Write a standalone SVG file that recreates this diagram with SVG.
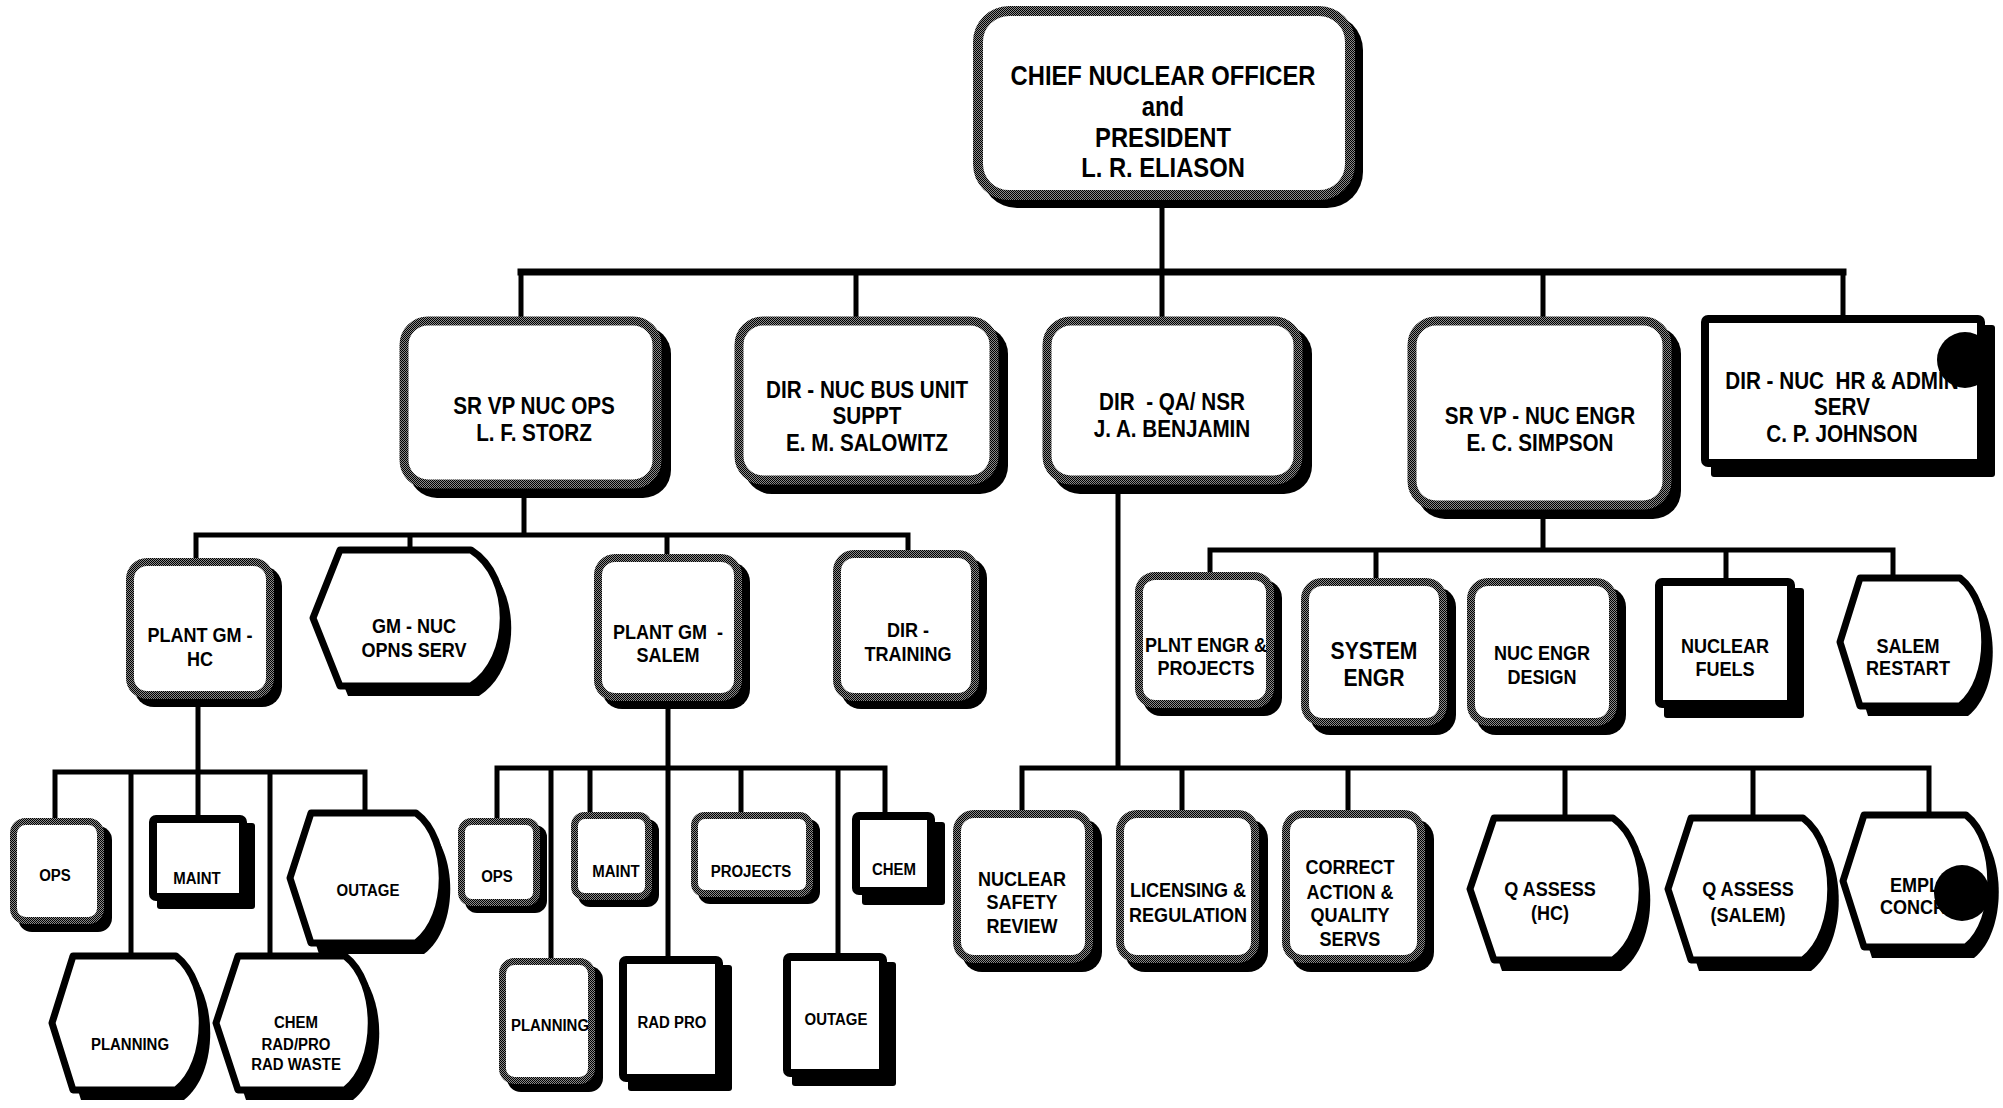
<svg xmlns="http://www.w3.org/2000/svg" width="2003" height="1108" viewBox="0 0 2003 1108">
  <defs>
    <!-- halftone fill used for the dotted box borders -->
    <pattern id="ht" width="2" height="2" patternUnits="userSpaceOnUse">
      <rect width="2" height="2" fill="#8a8a8a"/>
      <rect width="1" height="1" fill="#000"/>
      <rect x="1" y="1" width="1" height="1" fill="#000"/>
    </pattern>
  </defs>
  <style>
    .sh { fill: #000; }
    .ht { fill: #fff; stroke: url(#ht); }
    .bk { fill: #fff; stroke: #000; stroke-width: 8; }
    .dp { fill: #fff; stroke: #000; stroke-width: 7; stroke-linejoin: round; }
    .ln { stroke: #000; stroke-width: 5; fill: none; stroke-linecap: square; }
    .bus1 { stroke-width: 7; }
    text {
      font-family: "Liberation Sans", Arial, sans-serif; font-weight: bold;
      text-anchor: middle; fill: #000; white-space: pre;
      transform-box: fill-box; transform-origin: 50% 50%; transform: scaleX(0.88);
    }
    .f27 { font-size: 27px; }
    .f23 { font-size: 23.5px; }
    .f24 { font-size: 24px; }
    .f20 { font-size: 20.5px; }
    .f17 { font-size: 17px; }
  </style>

  <rect width="2003" height="1108" fill="#fff"/>

  <!-- reporting lines -->
  <g id="connectors" class="ln">
    <path d="M1162,200 V272"/>
    <path class="bus1" d="M521,272 H1843"/>
    <path d="M521,272 V317 M856,272 V317 M1162,272 V317 M1543,272 V317 M1843,272 V315"/>

    <path d="M524,489 V535 M196,535 H908 M196,535 V558 M410,535 V550 M667,535 V554 M908,535 V550"/>

    <path d="M1543,510 V550 M1210,550 H1893 M1210,550 V572 M1376,550 V578 M1726,550 V578 M1893,550 V578"/>

    <path d="M1118,485 V768 M1022,768 H1929 M1022,768 V810 M1182,768 V810 M1348,768 V810 M1565,768 V818 M1753,768 V818 M1929,768 V815"/>

    <path d="M198,699 V772 M55,772 H365 M55,772 V818 M131,772 V956 M198,772 V815 M270,772 V956 M365,772 V813"/>

    <path d="M668,701 V956 M497,768 H885 M497,768 V818 M551,768 V958 M590,768 V812 M741,768 V812 M838,768 V953 M885,768 V812"/>
  </g>

  <!-- top level -->
  <g id="cno">
    <rect class="sh" x="981" y="14" width="382" height="194" rx="36"/>
    <rect class="ht" x="978" y="11" width="372" height="184" rx="31" stroke-width="10"/>
    <text class="f27" x="1163" y="85">CHIEF NUCLEAR OFFICER</text>
    <text class="f27" x="1163" y="116">and</text>
    <text class="f27" x="1163" y="147">PRESIDENT</text>
    <text class="f27" x="1163" y="177">L. R. ELIASON</text>
  </g>

  <!-- second level -->
  <g id="srvp-ops">
    <rect class="sh" x="409" y="326" width="262" height="172" rx="28"/>
    <rect class="ht" x="404" y="321" width="253" height="163" rx="24" stroke-width="9"/>
    <text class="f23" x="534" y="414">SR VP NUC OPS</text>
    <text class="f23" x="534" y="441">L. F. STORZ</text>
  </g>
  <g id="dir-bus">
    <rect class="sh" x="744" y="326" width="264" height="168" rx="28"/>
    <rect class="ht" x="739" y="321" width="255" height="159" rx="24" stroke-width="9"/>
    <text class="f23" x="867" y="398">DIR - NUC BUS UNIT</text>
    <text class="f23" x="867" y="424">SUPPT</text>
    <text class="f23" x="867" y="451">E. M. SALOWITZ</text>
  </g>
  <g id="dir-qa">
    <rect class="sh" x="1052" y="326" width="260" height="168" rx="28"/>
    <rect class="ht" x="1047" y="321" width="251" height="159" rx="24" stroke-width="9"/>
    <text class="f23" x="1172" y="410">DIR  - QA/ NSR</text>
    <text class="f23" x="1172" y="437">J. A. BENJAMIN</text>
  </g>
  <g id="srvp-engr">
    <rect class="sh" x="1417" y="326" width="264" height="193" rx="28"/>
    <rect class="ht" x="1412" y="321" width="255" height="184" rx="24" stroke-width="9"/>
    <text class="f23" x="1540" y="424">SR VP - NUC ENGR</text>
    <text class="f23" x="1540" y="451">E. C. SIMPSON</text>
  </g>
  <g id="dir-hr">
    <rect class="sh" x="1711" y="325" width="284" height="152" rx="3"/>
    <rect class="bk" x="1705" y="319" width="276" height="144" rx="3"/>
    <text class="f23" x="1842" y="389">DIR - NUC  HR &amp; ADMIN</text>
    <text class="f23" x="1842" y="415">SERV</text>
    <text class="f23" x="1842" y="442">C. P. JOHNSON</text>
    <circle cx="1965" cy="360" r="28" fill="#000"/>
  </g>

  <!-- nuclear operations -->
  <g id="plant-gm-hc">
    <rect class="sh" x="134" y="566" width="148" height="141" rx="20"/>
    <rect class="ht" x="130" y="562" width="140" height="133" rx="17" stroke-width="8"/>
    <text class="f20" x="200" y="642">PLANT GM -</text>
    <text class="f20" x="200" y="666">HC</text>
  </g>
  <g id="gm-nuc-opns">
    <path class="sh" d="M348,560 H479 C522,587 522,669 479,696 H348 L321,628 Z"/>
    <path class="dp" d="M340,550 H471 C514,577 514,659 471,686 H340 L313,618 Z"/>
    <text class="f20" x="414" y="633">GM - NUC</text>
    <text class="f20" x="414" y="657">OPNS SERV</text>
  </g>
  <g id="plant-gm-salem">
    <rect class="sh" x="602" y="562" width="148" height="147" rx="20"/>
    <rect class="ht" x="598" y="558" width="140" height="139" rx="17" stroke-width="8"/>
    <text class="f20" x="668" y="639">PLANT GM  -</text>
    <text class="f20" x="668" y="662">SALEM</text>
  </g>
  <g id="dir-training">
    <rect class="sh" x="841" y="558" width="146" height="151" rx="20"/>
    <rect class="ht" x="837" y="554" width="138" height="143" rx="17" stroke-width="8"/>
    <text class="f20" x="908" y="637">DIR -</text>
    <text class="f20" x="908" y="661">TRAINING</text>
  </g>

  <!-- Hope Creek plant -->
  <g id="hc-ops">
    <rect class="sh" x="18" y="826" width="94" height="106" rx="14"/>
    <rect class="ht" x="13.5" y="821.5" width="87" height="99" rx="12" stroke-width="7"/>
    <text class="f17" x="55" y="881">OPS</text>
  </g>
  <g id="hc-maint">
    <rect class="sh" x="157" y="823" width="98" height="86" rx="3"/>
    <rect class="bk" x="153" y="819" width="90" height="78" rx="3"/>
    <text class="f17" x="197" y="884">MAINT</text>
  </g>
  <g id="hc-outage">
    <path class="sh" d="M319,824 H424 C459,850 459,928 424,954 H319 L298,889 Z"/>
    <path class="dp" d="M311,813 H416 C451,839 451,917 416,943 H311 L290,878 Z"/>
    <text class="f17" x="368" y="896">OUTAGE</text>
  </g>
  <g id="hc-planning">
    <path class="sh" d="M81,966 H184 C219,993 219,1073 184,1100 H81 L60,1033 Z"/>
    <path class="dp" d="M73,956 H176 C211,983 211,1063 176,1090 H73 L52,1023 Z"/>
    <text class="f17" x="130" y="1050">PLANNING</text>
  </g>
  <g id="hc-chem">
    <path class="sh" d="M246,966 H353 C388,993 388,1073 353,1100 H246 L224,1033 Z"/>
    <path class="dp" d="M238,956 H345 C380,983 380,1063 345,1090 H238 L216,1023 Z"/>
    <text class="f17" x="296" y="1028">CHEM</text>
    <text class="f17" x="296" y="1050">RAD/PRO</text>
    <text class="f17" x="296" y="1070">RAD WASTE</text>
  </g>

  <!-- Salem plant -->
  <g id="salem-ops">
    <rect class="sh" x="465" y="825" width="82" height="88" rx="12"/>
    <rect class="ht" x="461.5" y="821.5" width="75" height="81" rx="10" stroke-width="7"/>
    <text class="f17" x="497" y="882">OPS</text>
  </g>
  <g id="salem-maint">
    <rect class="sh" x="578" y="819" width="81" height="88" rx="12"/>
    <rect class="ht" x="574.5" y="815.5" width="74" height="81" rx="10" stroke-width="7"/>
    <text class="f17" x="616" y="877">MAINT</text>
  </g>
  <g id="salem-projects">
    <rect class="sh" x="698" y="819" width="122" height="85" rx="12"/>
    <rect class="ht" x="694.5" y="815.5" width="115" height="78" rx="10" stroke-width="7"/>
    <text class="f17" x="751" y="877">PROJECTS</text>
  </g>
  <g id="salem-chem">
    <rect class="sh" x="862" y="822" width="83" height="83" rx="3"/>
    <rect class="bk" x="856" y="816" width="75" height="75" rx="3"/>
    <text class="f17" x="894" y="875">CHEM</text>
  </g>
  <g id="salem-planning">
    <rect class="sh" x="507" y="966" width="96" height="126" rx="14"/>
    <rect class="ht" x="502.5" y="961.5" width="89" height="119" rx="12" stroke-width="7"/>
    <text class="f17" x="550" y="1031">PLANNING</text>
  </g>
  <g id="salem-radpro">
    <rect class="sh" x="628" y="965" width="104" height="126" rx="3"/>
    <rect class="bk" x="623" y="960" width="96" height="118" rx="3"/>
    <text class="f17" x="672" y="1028">RAD PRO</text>
  </g>
  <g id="salem-outage">
    <rect class="sh" x="792" y="962" width="104" height="124" rx="3"/>
    <rect class="bk" x="787" y="957" width="96" height="116" rx="3"/>
    <text class="f17" x="836" y="1025">OUTAGE</text>
  </g>

  <!-- nuclear engineering -->
  <g id="plnt-engr">
    <rect class="sh" x="1143" y="580" width="139" height="136" rx="18"/>
    <rect class="ht" x="1139" y="576" width="131" height="128" rx="16" stroke-width="8"/>
    <text class="f20" x="1206" y="652">PLNT ENGR &amp;</text>
    <text class="f20" x="1206" y="675">PROJECTS</text>
  </g>
  <g id="system-engr">
    <rect class="sh" x="1310" y="587" width="146" height="148" rx="20"/>
    <rect class="ht" x="1305" y="582" width="138" height="140" rx="17" stroke-width="8"/>
    <text class="f24" x="1374" y="659">SYSTEM</text>
    <text class="f24" x="1374" y="686">ENGR</text>
  </g>
  <g id="nuc-engr-design">
    <rect class="sh" x="1476" y="587" width="150" height="148" rx="20"/>
    <rect class="ht" x="1471" y="582" width="142" height="140" rx="17" stroke-width="8"/>
    <text class="f20" x="1542" y="660">NUC ENGR</text>
    <text class="f20" x="1542" y="684">DESIGN</text>
  </g>
  <g id="nuclear-fuels">
    <rect class="sh" x="1664" y="588" width="140" height="130" rx="3"/>
    <rect class="bk" x="1659" y="582" width="132" height="122" rx="3"/>
    <text class="f20" x="1725" y="653">NUCLEAR</text>
    <text class="f20" x="1725" y="676">FUELS</text>
  </g>
  <g id="salem-restart">
    <path class="sh" d="M1868,588 H1968 C2001,614 2001,690 1968,716 H1868 L1848,652 Z"/>
    <path class="dp" d="M1860,578 H1960 C1993,604 1993,680 1960,706 H1860 L1840,642 Z"/>
    <text class="f20" x="1908" y="653">SALEM</text>
    <text class="f20" x="1908" y="675">RESTART</text>
  </g>

  <!-- quality assurance / nuclear safety review -->
  <g id="nsr">
    <rect class="sh" x="962" y="819" width="140" height="153" rx="20"/>
    <rect class="ht" x="957" y="814" width="132" height="145" rx="17" stroke-width="8"/>
    <text class="f20" x="1022" y="886">NUCLEAR</text>
    <text class="f20" x="1022" y="909">SAFETY</text>
    <text class="f20" x="1022" y="933">REVIEW</text>
  </g>
  <g id="licensing">
    <rect class="sh" x="1125" y="819" width="143" height="153" rx="20"/>
    <rect class="ht" x="1120" y="814" width="135" height="145" rx="17" stroke-width="8"/>
    <text class="f20" x="1188" y="897">LICENSING &amp;</text>
    <text class="f20" x="1188" y="922">REGULATION</text>
  </g>
  <g id="corrective-action">
    <rect class="sh" x="1291" y="819" width="143" height="153" rx="20"/>
    <rect class="ht" x="1286" y="814" width="135" height="145" rx="17" stroke-width="8"/>
    <text class="f20" x="1350" y="874">CORRECT</text>
    <text class="f20" x="1350" y="899">ACTION &amp;</text>
    <text class="f20" x="1350" y="922">QUALITY</text>
    <text class="f20" x="1350" y="946">SERVS</text>
  </g>
  <g id="q-assess-hc">
    <path class="sh" d="M1502,829 H1621 C1660,857 1660,943 1621,971 H1502 L1478,900 Z"/>
    <path class="dp" d="M1494,818 H1613 C1652,846 1652,932 1613,960 H1494 L1470,889 Z"/>
    <text class="f20" x="1550" y="896">Q ASSESS</text>
    <text class="f20" x="1550" y="920">(HC)</text>
  </g>
  <g id="q-assess-salem">
    <path class="sh" d="M1699,829 H1811 C1848,857 1848,943 1811,971 H1699 L1676,900 Z"/>
    <path class="dp" d="M1691,818 H1803 C1840,846 1840,932 1803,960 H1691 L1668,889 Z"/>
    <text class="f20" x="1748" y="896">Q ASSESS</text>
    <text class="f20" x="1748" y="922">(SALEM)</text>
  </g>
  <g id="empl-concerns">
    <path class="sh" d="M1872,826 H1974 C2007,852 2007,932 1974,958 H1872 L1851,892 Z"/>
    <path class="dp" d="M1864,815 H1966 C1999,841 1999,921 1966,947 H1864 L1843,881 Z"/>
    <text class="f20" x="1915" y="892">EMPL</text>
    <text class="f20" x="1913" y="914">CONCR</text>
    <circle cx="1962" cy="893" r="28" fill="#000"/>
  </g>
</svg>
